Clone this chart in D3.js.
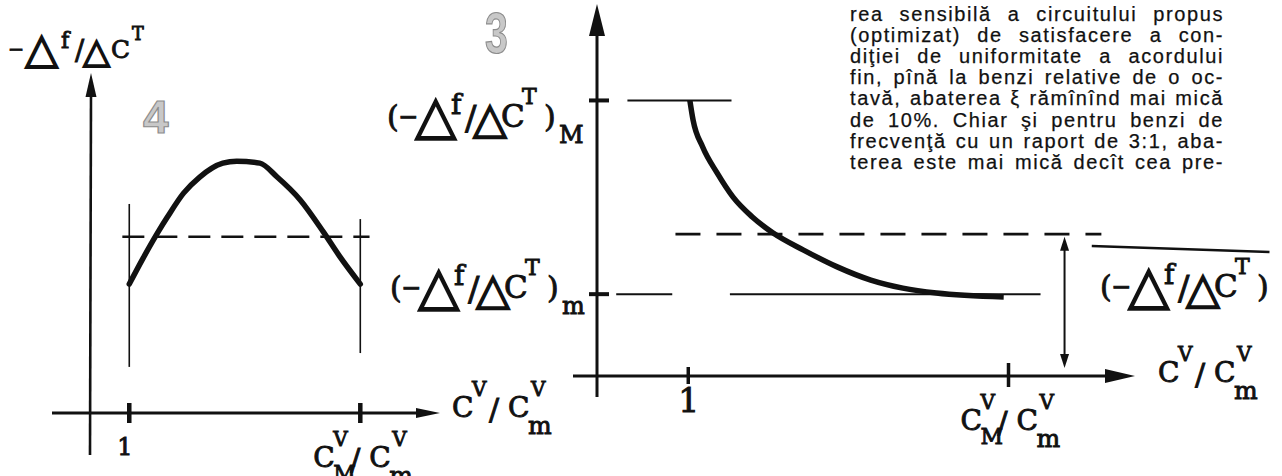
<!DOCTYPE html>
<html>
<head>
<meta charset="utf-8">
<script src="https://cdn.jsdelivr.net/npm/d3@7"></script>
<style>
  html, body { margin: 0; padding: 0; background: #fff; }
  svg { display: block; }
</style>
</head>
<body>
<svg id="fig" width="1282" height="476"></svg>
<script>
// fig. 4 - bell shaped sensitivity over the band
var fig4X = [1.0, 1.12, 1.25, 1.33, 1.47, 1.61, 1.81, 1.93, 2.13, 2.28, 2.48, 2.68, 2.82, 3.0];
var fig4Y = [5.12, 6.15, 7.19, 7.78, 8.73, 9.37, 9.92, 10.0, 9.92, 9.37, 8.46, 7.19, 6.23, 5.12];
var fig4Mean = 7.0;

// fig. 3 - optimized circuit, monotone decrease
var fig3X = [1.01, 1.03, 1.09, 1.18, 1.28, 1.40, 1.53, 1.72, 1.93, 2.14, 2.34, 2.55, 2.97];
var fig3Y = [10.0, 9.29, 8.31, 7.37, 6.49, 5.77, 5.19, 4.57, 3.96, 3.48, 3.19, 3.01, 2.87];
var fig3Mean = 5.15;
var fig3Levels = [10.0, 2.97];   // (..)_M and (..)_m

// both x axes: 1 and C_M/C_m (band 3:1)
var xTicks = [1, 3];

var paraLines = [
  'rea sensibilă a circuitului propus',
  '(optimizat) de satisfacere a con-',
  'diţiei de uniformitate a acordului',
  'fin, pînă la benzi relative de o oc-',
  'tavă, abaterea ξ rămînînd mai mică',
  'de 10%. Chiar şi pentru benzi de',
  'frecvenţă cu un raport de 3:1, aba-',
  'terea este mai mică decît cea pre-'
];

var INK = '#111';
var SERIF = "'DejaVu Serif', serif";
var TRI = "'DejaVu Sans', sans-serif";

var svg = d3.select('#fig');

// typewritten formula, each glyph: [text, dx, dy (from baseline), size, family]
function mathLabel(sel, x, y, parts, k) {
  k = k || 1;
  var t = sel.append('text')
      .attr('font-family', SERIF)
      .attr('fill', INK)
      .attr('stroke', INK).attr('stroke-width', 0.9);
  parts.forEach(function(p) {
    var ts = t.append('tspan').text(p[0])
        .attr('x', x + p[1])
        .attr('y', y + p[2] * k)
        .attr('font-size', p[3] * k);
    if (p[4]) ts.attr('font-family', p[4]).attr('stroke-width', 1.6);
  });
  return t;
}

// ( -Δf / ΔC^T ) with optional subscript
function dfdc(parens, sub) {
  var p = [];
  if (parens) p.push(['(', 0, 0, 30]);
  p.push(['−', 11, -2, 24]);
  p.push(['△', 28, 6, 54, TRI]);
  p.push(['f', 64, -13, 28]);
  p.push(['/', 78, 3, 34]);
  p.push(['△', 86, 6, 44, TRI]);
  p.push(['C', 114, 0, 31]);
  p.push(['T', 135, -23, 22]);
  if (parens) p.push([')', 157, 0, 30]);
  if (sub) p.push([sub, 172, 16, 24]);
  return p;
}

// C^V / C_m^V  or  C_M^V / C_m^V
function ratio(numSub) {
  var p = [['C', 0, 0, 28], ['V', 20, -21, 20]];
  if (numSub) p.push([numSub, 20, 14, 22]);
  p.push(['/', 37, 3, 30]);
  p.push(['C', 56, 0, 28]);
  p.push(['V', 79, -21, 20]);
  p.push(['m', 76, 17, 25]);
  return p;
}

function arrowHead(sel, tipX, tipY, dir, len, half) {
  var pts;
  if (dir === 'up') pts = [[tipX, tipY], [tipX - half, tipY + len], [tipX + half, tipY + len]];
  else if (dir === 'down') pts = [[tipX, tipY], [tipX - half, tipY - len], [tipX + half, tipY - len]];
  else pts = [[tipX, tipY], [tipX - len, tipY - half], [tipX - len, tipY + half]];
  sel.append('path')
      .attr('d', 'M' + pts.map(function(d) { return d.join(','); }).join('L') + 'Z')
      .attr('fill', INK);
}

function seg(sel, x1, y1, x2, y2, w, dash) {
  var l = sel.append('line')
      .attr('x1', x1).attr('y1', y1).attr('x2', x2).attr('y2', y2)
      .attr('stroke', INK).attr('stroke-width', w);
  if (dash) l.attr('stroke-dasharray', dash);
  return l;
}

function bigDigit(sel, x, y, size, txt, sx) {
  sel.append('text')
      .attr('transform', 'translate(' + x + ',' + y + ') scale(' + sx + ',1)')
      .attr('font-family', "'Liberation Sans', Arial, sans-serif")
      .attr('font-weight', 'bold')
      .attr('font-size', size)
      .attr('fill', '#c8c8c8')
      .attr('stroke', '#8c8c8c').attr('stroke-width', 1.2)
      .text(txt);
}

var curve = d3.line()
    .x(function(d) { return d.sx; })
    .y(function(d) { return d.sy; })
    .curve(d3.curveMonotoneX);

// ---------------- fig. 4 ----------------
var x4 = d3.scaleLinear().domain([0.66, 3.69]).range([90, 440]);
var y4 = d3.scaleLinear().domain([0, 13.5]).range([413, 73]);
var g4 = svg.append('g');
var o4x = x4(0.66), o4y = y4(0);

seg(g4, o4x, o4y + 42, o4x + 1, y4(13.5) + 20, 2.6);
arrowHead(g4, o4x + 1, y4(13.5), 'up', 24, 5.5);
seg(g4, o4x - 38, o4y, x4(3.69) - 20, o4y, 2.8);
arrowHead(g4, x4(3.69), o4y, 'right', 24, 5);

// guide verticals at the band edges
seg(g4, x4(xTicks[0]), y4(8.3), x4(xTicks[0]), y4(1.83), 1.6);
seg(g4, x4(xTicks[1]), y4(7.7), x4(xTicks[1]), y4(2.38), 1.6);
xTicks.forEach(function(v) {
  seg(g4, x4(v), o4y - 10, x4(v), o4y + 10, 4.5);
});
seg(g4, x4(0.94), y4(fig4Mean), x4(3.08), y4(fig4Mean), 2.6, '22,11');

g4.append('path')
    .datum(fig4X.map(function(v, i) { return { sx: x4(v), sy: y4(fig4Y[i]) }; }))
    .attr('d', curve)
    .attr('fill', 'none').attr('stroke', INK)
    .attr('stroke-width', 5.5).attr('stroke-linecap', 'round');

mathLabel(g4, 8 - 11, 58, dfdc(false), 0.8);
mathLabel(g4, x4(xTicks[0]) - 12, 455, [['1', 0, 0, 24]]);
mathLabel(g4, x4(xTicks[1]) - 47, 467, ratio('M'));
mathLabel(g4, x4(3.69) + 12, 417, ratio(null));
bigDigit(g4, 143, 133, 46, '4', 1);

// ---------------- fig. 3 ----------------
var x3 = d3.scaleLinear().domain([0.43, 3.79]).range([597, 1135]);
var y3 = d3.scaleLinear().domain([0, 13.5]).range([376, 4]);
var g3 = svg.append('g');
var o3x = x3(0.43), o3y = y3(0);

seg(g3, o3x, o3y + 21, o3x, y3(13.5) + 28, 3);
arrowHead(g3, o3x, y3(13.5), 'up', 32, 8);
seg(g3, o3x - 24, o3y, x3(3.79) - 26, o3y, 3);
arrowHead(g3, x3(3.79), o3y, 'right', 30, 7);

xTicks.forEach(function(v, i) {
  seg(g3, x3(v), o3y - (i ? 13 : 9), x3(v), o3y + (i ? 11 : 8), 3.5);
});
fig3Levels.forEach(function(v) {
  seg(g3, o3x - 8, y3(v), o3x + 12, y3(v), 4);
});

// reference levels
seg(g3, x3(0.62), y3(fig3Levels[0]), x3(1.27), y3(fig3Levels[0]), 2);
seg(g3, x3(0.55), y3(fig3Levels[1]), x3(0.90), y3(fig3Levels[1]), 2);
seg(g3, x3(1.26), y3(fig3Levels[1]), x3(3.2), y3(fig3Levels[1]), 2);
seg(g3, x3(0.92), y3(fig3Mean), x3(3.58), y3(fig3Mean), 2.6, '25,16');

// spread arrow
var ax = x3(3.35);
seg(g3, ax, y3(5.05) + 12, ax, y3(0.29) - 12, 2);
arrowHead(g3, ax, y3(5.05), 'up', 14, 4.5);
arrowHead(g3, ax, y3(0.29), 'down', 14, 4.5);

// edge of the neighbouring figure
seg(g3, x3(3.52), y3(4.72), x3(4.63), y3(4.5), 2.4);

g3.append('path')
    .datum(fig3X.map(function(v, i) { return { sx: x3(v), sy: y3(fig3Y[i]) }; }))
    .attr('d', curve)
    .attr('fill', 'none').attr('stroke', INK)
    .attr('stroke-width', 5.5);

mathLabel(g3, o3x - 210, 127, dfdc(true, 'M'));
mathLabel(g3, o3x - 207, 298, dfdc(true, 'm'));
mathLabel(g3, 1100, 297, dfdc(true, null));
mathLabel(g3, x3(xTicks[0]) - 10, 412, [['1', 0, 0, 33]]);
mathLabel(g3, x3(xTicks[1]) - 48, 430, ratio('M'));
mathLabel(g3, x3(3.79) + 23, 382, ratio(null));
bigDigit(g3, 485, 53, 57, '3', 0.72);

// ---------------- text column ----------------
var col = svg.append('g')
    .attr('font-family', "'Liberation Sans', Arial, sans-serif")
    .attr('font-size', 20)
    .attr('letter-spacing', 1.6)
    .attr('fill', INK)
    .attr('stroke', INK).attr('stroke-width', 0.25);
var colLeft = 850, colRight = 1224;
paraLines.forEach(function(line, i) {
  var words = line.split(' ');
  var y = 21 + 21.1 * i;
  var nodes = words.map(function(w) {
    return col.append('text').attr('y', y).text(w);
  });
  var widths = nodes.map(function(n) { return n.node().getComputedTextLength(); });
  var gap = (colRight - colLeft - d3.sum(widths)) / Math.max(1, words.length - 1);
  var x = colLeft;
  nodes.forEach(function(n, k) {
    n.attr('x', x);
    x += widths[k] + gap;
  });
});
</script>
</body>
</html>
